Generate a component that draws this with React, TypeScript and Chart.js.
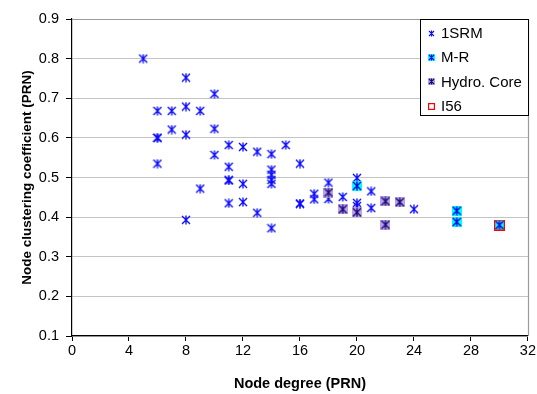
import React, { useEffect, useRef } from "react";
import { Chart, registerables } from "chart.js";

Chart.register(...registerables);

// ---- Data ----
const srmDegree = [
  5,
  6, 6, 6, 6,
  7, 7,
  8, 8, 8, 8,
  9, 9,
  10, 10, 10,
  11, 11, 11, 11, 11,
  12, 12, 12,
  13, 13,
  14, 14, 14, 14, 14, 14,
  15,
  16, 16, 16,
  17, 17,
  18, 18,
  19,
  20, 20, 20,
  21, 21,
  24,
];
const srmCoef = [
  0.8,
  0.668, 0.6, 0.6, 0.535,
  0.668, 0.621,
  0.752, 0.679, 0.608, 0.393,
  0.668, 0.472,
  0.711, 0.623, 0.557,
  0.582, 0.527, 0.493, 0.493, 0.435,
  0.577, 0.484, 0.438,
  0.565, 0.411,
  0.559, 0.52, 0.507, 0.494, 0.484, 0.372,
  0.582,
  0.535, 0.434, 0.434,
  0.459, 0.445,
  0.487, 0.446,
  0.451,
  0.499, 0.436, 0.428,
  0.465, 0.423,
  0.42,
];
const mrDegree = [20, 27, 27, 30];
const mrCoef = [0.479, 0.416, 0.388, 0.38];
const hydroDegree = [18, 19, 20, 22, 22, 23];
const hydroCoef = [0.462, 0.42, 0.412, 0.44, 0.381, 0.438];
const i56Degree = [30];
const i56Coef = [0.38];

const seriesNames = ["1SRM", "M-R", "Hydro. Core", "I56"];
const xTitle = "Node degree (PRN)";
const yTitle = "Node clustering coefficient (PRN)";
const xMin = 0, xMax = 32, xStep = 4;
const yMin = 0.1, yMax = 0.9, yStep = 0.1;

const FONT = "'Liberation Sans', Arial, Helvetica, sans-serif";

type Kind = "srm" | "mr" | "hydro" | "i56";

function makeMarker(kind: Kind, size: number, lw: number): HTMLCanvasElement {
  const c = document.createElement("canvas");
  c.width = size;
  c.height = size;
  const ctx = c.getContext("2d")!;
  if (kind === "i56") {
    ctx.strokeStyle = "#FF0000";
    ctx.lineWidth = 1.2;
    ctx.strokeRect(0.6, 0.6, size - 1.2, size - 1.2);
    return c;
  }
  let starColor = "#0A0AFF";
  if (kind === "mr") {
    ctx.fillStyle = "#00FFFF";
    ctx.fillRect(0, 0, size, size);
    starColor = "#0000E0";
  } else if (kind === "hydro") {
    ctx.fillStyle = "#C19DF2";
    ctx.fillRect(0, 0, size, size);
    starColor = "#10106A";
  }
  const h = size / 2;
  ctx.strokeStyle = starColor;
  ctx.lineWidth = lw;
  ctx.beginPath();
  ctx.moveTo(1, 1);
  ctx.lineTo(size - 1, size - 1);
  ctx.moveTo(size - 1, 1);
  ctx.lineTo(1, size - 1);
  ctx.moveTo(h, 0.5);
  ctx.lineTo(h, size - 0.5);
  ctx.stroke();
  return c;
}

function pts(xs: number[], ys: number[]) {
  return xs.map((x, i) => ({ x, y: ys[i] }));
}

export default function App() {
  const ref = useRef<HTMLCanvasElement | null>(null);

  useEffect(() => {
    if (!ref.current) return;
    const kinds: Kind[] = ["srm", "mr", "hydro", "i56"];
    const plotMarkers = [
      makeMarker("srm", 10, 1.35),
      makeMarker("mr", 10, 1.35),
      makeMarker("hydro", 10, 1.35),
      makeMarker("i56", 11, 1.2),
    ];
    const legendMarkers = kinds.map((k) => makeMarker(k, 7, 1.1));

    const frame = {
      id: "frame",
      afterDatasetsDraw(chart: any) {
        const { ctx, chartArea } = chart;
        ctx.save();
        ctx.strokeStyle = "#9a9a9a";
        ctx.lineWidth = 1.2;
        ctx.beginPath();
        ctx.moveTo(chartArea.left, Math.round(chartArea.top) + 0.5);
        ctx.lineTo(chartArea.right, Math.round(chartArea.top) + 0.5);
        ctx.moveTo(Math.round(chartArea.right) + 0.5, chartArea.top);
        ctx.lineTo(Math.round(chartArea.right) + 0.5, chartArea.bottom);
        ctx.stroke();
        ctx.restore();
      },
    };

    const legendBox = {
      id: "legendBox",
      afterDraw(chart: any) {
        const { ctx, chartArea } = chart;
        const w = 108, h = 96;
        const left = Math.round(chartArea.right - w) + 0.5;
        const top = Math.round(chartArea.top) + 0.5;
        ctx.save();
        ctx.fillStyle = "#FFFFFF";
        ctx.fillRect(left, top, w, h);
        ctx.strokeStyle = "#000000";
        ctx.lineWidth = 1;
        ctx.strokeRect(left, top, w, h);
        ctx.font = `15px ${FONT}`;
        ctx.textBaseline = "middle";
        ctx.fillStyle = "#000000";
        seriesNames.forEach((name, i) => {
          const cy = top + 14 + i * 24.2;
          const m = legendMarkers[i];
          ctx.drawImage(m, Math.round(left + 11 - m.width / 2), Math.round(cy - m.height / 2));
          ctx.fillText(name, left + 20.5, cy + 0.5);
        });
        ctx.restore();
      },
    };

    const chart = new Chart(ref.current, {
      type: "scatter",
      data: {
        datasets: [
          { label: seriesNames[0], data: pts(srmDegree, srmCoef), pointStyle: plotMarkers[0] as any, order: 4 },
          { label: seriesNames[1], data: pts(mrDegree, mrCoef), pointStyle: plotMarkers[1] as any, order: 2 },
          { label: seriesNames[2], data: pts(hydroDegree, hydroCoef), pointStyle: plotMarkers[2] as any, order: 3 },
          { label: seriesNames[3], data: pts(i56Degree, i56Coef), pointStyle: plotMarkers[3] as any, order: 1 },
        ],
      },
      options: {
        animation: false,
        responsive: false,
        devicePixelRatio: 1,
        layout: { padding: { top: 19, right: 8, left: 0, bottom: 0 } },
        plugins: {
          legend: { display: false },
          tooltip: { enabled: false },
        },
        scales: {
          x: {
            type: "linear",
            min: xMin,
            max: xMax,
            ticks: {
              stepSize: xStep,
              color: "#000",
              font: { family: FONT, size: 14.5 },
              padding: 1,
            },
            grid: {
              drawOnChartArea: false,
              drawTicks: true,
              tickLength: 5,
              tickColor: "#000",
            },
            border: { color: "#000", width: 1.2 },
            title: {
              display: true,
              text: xTitle,
              color: "#000",
              font: { family: FONT, size: 14.5, weight: "bold" },
              padding: { top: 0, bottom: 1 },
            },
            afterFit(scale: any) {
              scale.height = 58;
            },
          },
          y: {
            type: "linear",
            min: yMin,
            max: yMax,
            ticks: {
              stepSize: yStep,
              color: "#000",
              font: { family: FONT, size: 14.5 },
              padding: 7,
              callback: (v: any) => Number(v).toFixed(1),
            },
            grid: {
              color: "#c4c4c4",
              lineWidth: 1,
              drawTicks: true,
              tickLength: 6,
              tickColor: "#000",
            },
            border: { color: "#000", width: 1.2 },
            title: {
              display: true,
              text: yTitle,
              color: "#000",
              font: { family: FONT, size: 13.5, weight: "bold" },
              padding: { top: 19, bottom: 0 },
            },
            afterFit(scale: any) {
              scale.width = 72;
            },
          },
        },
      } as any,
      plugins: [frame, legendBox],
    });
    return () => chart.destroy();
  }, []);

  return (
    <div style={{ position: "fixed", left: 0, top: 0, width: 537, height: 394, background: "#fff" }}>
      <canvas ref={ref} width={537} height={394} style={{ display: "block" }} />
    </div>
  );
}
